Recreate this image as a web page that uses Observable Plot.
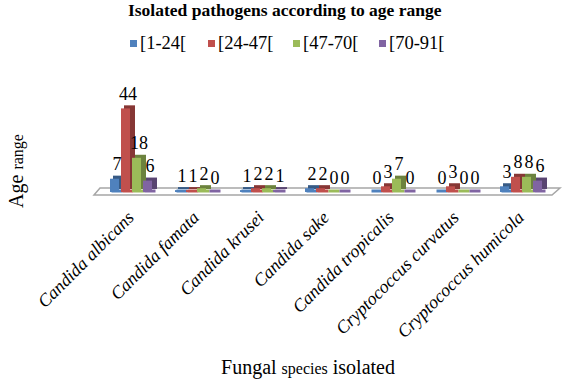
<!DOCTYPE html>
<html><head><meta charset="utf-8">
<script src="https://cdn.jsdelivr.net/npm/d3@7"></script>
<script src="https://cdn.jsdelivr.net/npm/@observablehq/plot@0.6"></script>
<style>
body{margin:0;background:#fff;}
#wrap{position:relative;width:568px;height:384px;font-family:'Liberation Serif','Times New Roman',serif;color:#000;overflow:hidden;}
#wrap svg{position:absolute;left:0;top:0;}
#wrap svg text{font-family:'Liberation Serif','Times New Roman',serif !important;font-variant:normal !important;}
.title{position:absolute;top:0px;left:128px;font-weight:bold;font-size:17.5px;white-space:nowrap;}
.legend{position:absolute;top:33px;left:130px;font-size:18.5px;white-space:nowrap;}
.legend span.item{position:absolute;top:0;white-space:nowrap;}
.legend span.sw{display:inline-block;width:7px;height:7px;margin-right:3px;vertical-align:2px;}
.ylab{position:absolute;left:16px;top:171px;transform:translate(-50%,-50%) rotate(-90deg);white-space:nowrap;font-size:20px;}
.xlab{position:absolute;left:308px;top:367px;transform:translate(-50%,-50%);white-space:nowrap;font-size:20px;}
.small{font-size:16px;}
</style></head><body><div id="wrap"></div>
<script>
const categories = ["Candida albicans","Candida famata","Candida krusei","Candida sake","Candida tropicalis","Cryptococcus curvatus","Cryptococcus humicola"];
const series = ["[1-24[","[24-47[","[47-70[","[70-91["];
const values_1_24 = [7,1,1,2,0,0,3];
const values_24_47 = [44,1,2,2,3,3,8];
const values_47_70 = [18,2,2,0,7,0,8];
const values_70_91 = [6,0,1,0,0,0,6];
const colors = ["#4F81BD","#C0504D","#9BBB59","#8064A2"];
const title = "Isolated pathogens according to age range";

const allValues = [values_1_24, values_24_47, values_47_70, values_70_91];
const data = [];
categories.forEach((c,i)=>series.forEach((s,j)=>data.push({cat:c, series:s, value:allValues[j][i]})));

const font = "'Liberation Serif','Times New Roman',serif";
const plot = Plot.plot({
  width:568, height:384,
  marginTop:97, marginBottom:192, marginLeft:97, marginRight:12,
  style:{fontFamily:font, fontSize:"17px", background:"transparent", color:"#000"},
  fx:{domain:categories, paddingInner:0.27, paddingOuter:0.15, label:null},
  x:{domain:series, padding:0, axis:null},
  y:{domain:[0,50], axis:null},
  color:{domain:series, range:colors},
  marks:[
    Plot.barY(data,{fx:"cat", x:"series", y:"value", fill:"series", dx:3, dy:-3}),
    Plot.barY(data,{fx:"cat", x:"series", y:"value", fill:"black", fillOpacity:0.3, dx:3, dy:-3}),
    Plot.tickY(data,{fx:"cat", x:"series", y:()=>0, stroke:"series", strokeWidth:3, dx:1.5, dy:-1.5}),
    Plot.barY(data,{fx:"cat", x:"series", y:"value", fill:"series", insetRight:2}),
    Plot.text(data,{fx:"cat", x:"series", y:"value", text:d=>String(d.value), dy:-9, dx:1, lineAnchor:"bottom", fontSize:18, fontFamily:font, fill:"black"}),
    Plot.axisFx({anchor:"bottom", tickRotate:-45, tickSize:0, tickPadding:22, fontSize:18, fontFamily:font, fontStyle:"italic", fill:"black", label:null, dx:-1})
  ]
});
const wrap = document.getElementById("wrap");
wrap.appendChild(plot);

// floor
const svg = d3.select(plot);
const y0 = plot.scale("y").apply(0);
const left = 97, right = 568-12;
svg.insert("polygon", "g").attr("points", [
  [left-3, y0+3],[right-4, y0+3],[right+4, y0-4],[left+3, y0-4]
].map(p=>p.join(",")).join(" ")).attr("fill","#fff").attr("stroke","#a6a6a6").attr("stroke-width",1.5);

const t = document.createElement("div"); t.className="title"; t.textContent=title; wrap.appendChild(t);
const lg = document.createElement("div"); lg.className="legend";
const legendX = [0, 78, 163, 249];
series.forEach((s,i)=>{const it=document.createElement("span");it.className="item"; it.style.left=legendX[i]+"px";
  const sw=document.createElement("span");sw.className="sw";sw.style.background=colors[i];
  it.appendChild(sw); it.appendChild(document.createTextNode(s)); lg.appendChild(it);});
wrap.appendChild(lg);
const yl=document.createElement("div"); yl.className="ylab"; yl.innerHTML='Age <span class="small">range</span>'; wrap.appendChild(yl);
const xl=document.createElement("div"); xl.className="xlab"; xl.innerHTML='Fungal <span class="small">species</span> isolated'; wrap.appendChild(xl);
</script></body></html>
